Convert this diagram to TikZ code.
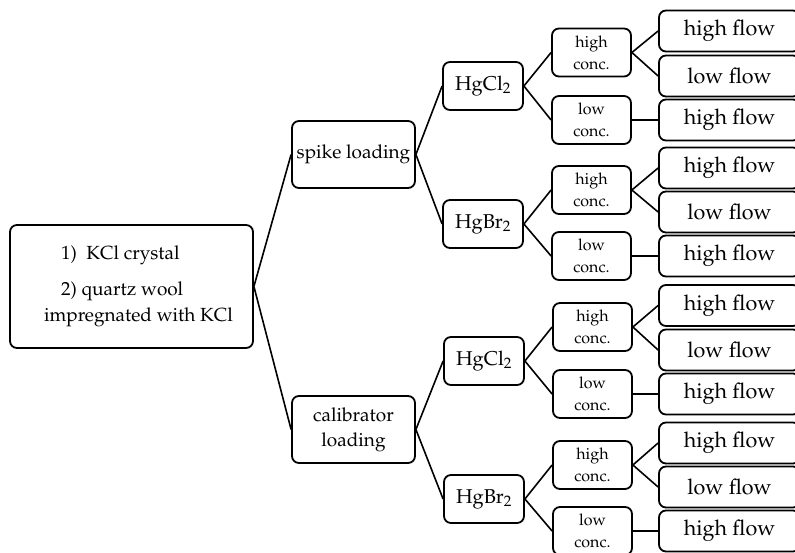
\documentclass[tikz,border=0pt]{standalone}
\usepackage[T1]{fontenc}
\usepackage{mathpazo}
\begin{document}
\begin{tikzpicture}[x=1pt,y=-1pt,
  box/.style={draw, line width=1.8pt, rounded corners=7pt, inner sep=0pt, align=center},
  rootbox/.style={box, minimum width=243pt, minimum height=123pt, font=\fontsize{19}{26}\selectfont, align=left},
  loadbox/.style={box, minimum width=123pt, minimum height=67pt, font=\fontsize{19}{25}\selectfont},
  hgbox/.style={box, minimum width=80pt, minimum height=48pt, font=\fontsize{20}{25}\selectfont},
  concbox/.style={box, minimum width=79pt, minimum height=48pt, font=\fontsize{16}{22}\selectfont},
  flowbox/.style={box, minimum width=141pt, minimum height=41pt, font=\fontsize{21.5}{25}\selectfont},
  edge/.style={line width=1.6pt}]
\useasboundingbox (0,0) rectangle (795,553);
\clip (0,0) rectangle (795,553);

\node[rootbox] (root) at (131.5,286.5) {\hspace*{31pt}1)\enspace KCl crystal\\[10pt]\hspace*{31pt}2) quartz wool\\\hspace*{14pt}impregnated with KCl};

\node[loadbox] (spike) at (353.5,154.5) {spike loading};
\node[loadbox] (calib) at (353.5,429.5) {calibrator\\loading};

\node[hgbox] (h1) at (483,86) {HgCl$_2$};
\node[hgbox] (h2) at (483,224) {HgBr$_2$};
\node[hgbox] (h3) at (484,361) {HgCl$_2$};
\node[hgbox] (h4) at (484,499) {HgBr$_2$};

\node[concbox] (c1) at (591.5,52.5) {high\\conc.};
\node[concbox] (c2) at (591.5,120) {low\\conc.};
\node[concbox] (c3) at (591.5,190) {high\\conc.};
\node[concbox] (c4) at (591.5,256) {low\\conc.};
\node[concbox] (c5) at (592.5,327) {high\\conc.};
\node[concbox] (c6) at (592.5,394) {low\\conc.};
\node[concbox] (c7) at (592.5,465) {high\\conc.};
\node[concbox] (c8) at (592.5,531) {low\\conc.};

\node[flowbox] (f1) at (729.5,31) {high flow};
\node[flowbox] (f2) at (729.5,76) {low flow};
\node[flowbox] (f3) at (729.5,120) {high flow};
\node[flowbox] (f4) at (729.5,168) {high flow};
\node[flowbox] (f5) at (729.5,212) {low flow};
\node[flowbox] (f6) at (729.5,256) {high flow};
\node[flowbox] (f7) at (729.5,305.5) {high flow};
\node[flowbox] (f8) at (729.5,350) {low flow};
\node[flowbox] (f9) at (729.5,394) {high flow};
\node[flowbox] (f10) at (729.5,443) {high flow};
\node[flowbox] (f11) at (729.5,487) {low flow};
\node[flowbox] (f12) at (729.5,531) {high flow};

\draw[edge] (root.east) -- (spike.west);
\draw[edge] (root.east) -- (calib.west);
\draw[edge] (spike.east) -- (h1.west);
\draw[edge] (spike.east) -- (h2.west);
\draw[edge] (calib.east) -- (h3.west);
\draw[edge] (calib.east) -- (h4.west);
\draw[edge] (h1.east) -- (c1.west);
\draw[edge] (h1.east) -- (c2.west);
\draw[edge] (h2.east) -- (c3.west);
\draw[edge] (h2.east) -- (c4.west);
\draw[edge] (h3.east) -- (c5.west);
\draw[edge] (h3.east) -- (c6.west);
\draw[edge] (h4.east) -- (c7.west);
\draw[edge] (h4.east) -- (c8.west);
\draw[edge] (c1.east) -- (f1.west);
\draw[edge] (c1.east) -- (f2.west);
\draw[edge] (c2.east) -- (f3.west);
\draw[edge] (c3.east) -- (f4.west);
\draw[edge] (c3.east) -- (f5.west);
\draw[edge] (c4.east) -- (f6.west);
\draw[edge] (c5.east) -- (f7.west);
\draw[edge] (c5.east) -- (f8.west);
\draw[edge] (c6.east) -- (f9.west);
\draw[edge] (c7.east) -- (f10.west);
\draw[edge] (c7.east) -- (f11.west);
\draw[edge] (c8.east) -- (f12.west);
\end{tikzpicture}
\end{document}
